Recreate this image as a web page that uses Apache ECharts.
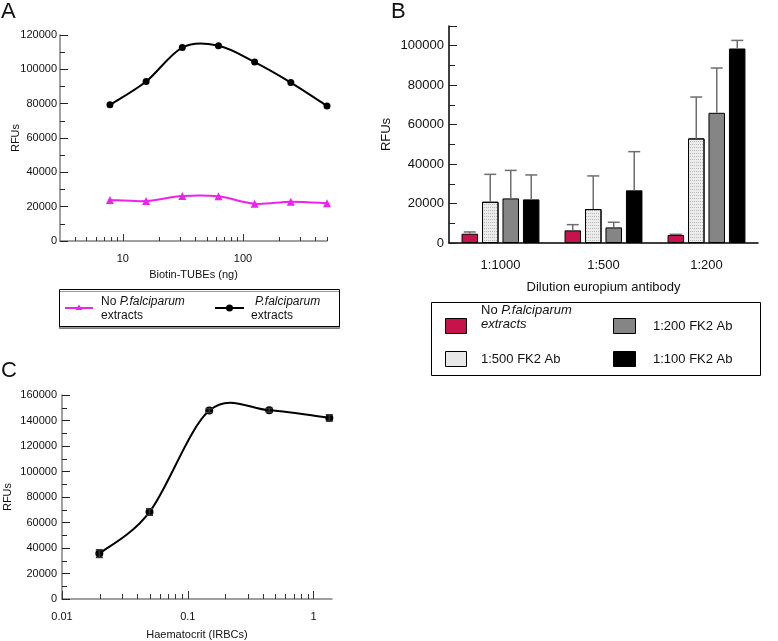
<!DOCTYPE html>
<html>
<head>
<meta charset="utf-8">
<script src="https://cdn.jsdelivr.net/npm/echarts@6/dist/echarts.min.js"></script>
<style>html,body{margin:0;padding:0;background:#fff}#c{width:778px;height:641px}</style>
</head>
<body>
<div id="c"></div>
<script>
// ---- Panel A data ----
const tubesNg = [7.8125, 15.625, 31.25, 62.5, 125, 250, 500];
const withExtractA = [79300, 92900, 112700, 113700, 104200, 92300, 78700];
const noExtractA = [23900, 23300, 26200, 26000, 21700, 22900, 22000];
const aMajorTicks = [10, 100];
const aMinorTicks = [4, 5, 6, 7, 8, 9, 20, 30, 40, 50, 60, 70, 80, 90, 200, 300, 400, 500];

// ---- Panel B data ----
const dilutions = ['1:1000', '1:500', '1:200'];
const bNoExtract = [4700, 6400, 4100];
const bNoExtractErr = [900, 2900, 300];
const bFk500 = [20900, 17200, 53000];
const bFk500Err = [13900, 16800, 21000];
const bFk200 = [22600, 7900, 66000];
const bFk200Err = [14200, 2600, 22700];
const bFk100 = [22100, 26700, 98600];
const bFk100Err = [12400, 19600, 4100];

// ---- Panel C data ----
const haematocrit = [0.0198, 0.0496, 0.148, 0.444, 1.333];
const rfuC = [35600, 68200, 147800, 148000, 142000];
const rfuCErr = [3000, 2500, 1500, 1500, 2500];
const cMajorTicks = [0.01, 0.1, 1];
const cMinorTicks = [0.02, 0.03, 0.04, 0.05, 0.06, 0.07, 0.08, 0.09, 0.2, 0.3, 0.4, 0.5, 0.6, 0.7, 0.8, 0.9];

const FONT = 'Liberation Sans, Arial, Helvetica, sans-serif';
const fmtNum = v => String(+(+v).toPrecision(6));

const chart = echarts.init(document.getElementById('c'), null, {renderer: 'canvas'});

function logX(gridIndex, min, max, ticks, tickLen, showLabels, name, nameGap) {
  return {
    type: 'log', gridIndex, min, max, logBase: 10, position: 'bottom',
    axisLine: {show: showLabels, lineStyle: {color: '#808080', width: 1.5}},
    axisTick: {show: true, inside: true, length: tickLen, customValues: ticks, lineStyle: {color: '#333', width: 1}},
    axisLabel: {show: showLabels, customValues: ticks, formatter: fmtNum, fontFamily: FONT, fontSize: 11, color: '#111', margin: 12},
    splitLine: {show: false},
    minorTick: {show: false},
    name: showLabels ? name : '', nameLocation: 'middle', nameGap: nameGap, nameMoveOverlap: false,
    nameTextStyle: {fontFamily: FONT, fontSize: 11, color: '#111'}
  };
}

function valY(gridIndex, max, interval, opts) {
  return Object.assign({
    type: 'value', gridIndex, min: 0, max, interval,
    axisLine: {show: true, lineStyle: {color: '#808080', width: 1.5}},
    axisTick: {show: true, inside: true, length: 8, lineStyle: {color: '#222'}},
    minorTick: {show: true, splitNumber: 2, length: 5, lineStyle: {color: '#222'}},
    axisLabel: {fontFamily: FONT, fontSize: 11, color: '#111', margin: 3, formatter: v => String(v)},
    splitLine: {show: false},
    nameLocation: 'middle', name: 'RFUs', nameMoveOverlap: false,
    nameTextStyle: {fontFamily: FONT, fontSize: 11, color: '#111'}
  }, opts);
}

const pairs = (xs, ys) => xs.map((x, i) => [x, ys[i]]);

// Catmull-Rom spline through the points, positioned via the axes' own scales
function splineSeries(xIdx, yIdx, xs, ys, color, width) {
  return {
    type: 'custom', xAxisIndex: xIdx, yAxisIndex: yIdx, z: 3,
    data: pairs(xs, ys),
    renderItem: function (params, api) {
      if (params.dataIndex !== 0) return null;
      const p = xs.map((x, i) => api.coord([x, ys[i]]));
      const n = p.length;
      const children = [];
      for (let i = 0; i < n - 1; i++) {
        const p0 = p[Math.max(i - 1, 0)], p1 = p[i], p2 = p[i + 1], p3 = p[Math.min(i + 2, n - 1)];
        children.push({
          type: 'bezierCurve',
          shape: {
            x1: p1[0], y1: p1[1], x2: p2[0], y2: p2[1],
            cpx1: p1[0] + (p2[0] - p0[0]) / 6, cpy1: p1[1] + (p2[1] - p0[1]) / 6,
            cpx2: p2[0] - (p3[0] - p1[0]) / 6, cpy2: p2[1] - (p3[1] - p1[1]) / 6
          },
          style: {stroke: color, lineWidth: width, fill: null}
        });
      }
      return {type: 'group', children};
    }
  };
}

const bOffsets = [-30.75, -10.25, 10.25, 30.75];
function errBarB(values, errs, idx) {
  return {
    type: 'custom', xAxisIndex: 4, yAxisIndex: 1, z: 10,
    data: values.map((v, i) => [i, v, errs[i]]),
    renderItem: function (params, api) {
      const ci = api.value(0), m = api.value(1), e = api.value(2);
      const b = api.coord([ci, m]);
      const t = api.coord([ci, m + e]);
      const x = b[0] + bOffsets[idx];
      return {
        type: 'group', children: [
          {type: 'line', shape: {x1: x, y1: b[1], x2: x, y2: t[1]}, style: {stroke: '#6e6e6e', lineWidth: 1.5}},
          {type: 'line', shape: {x1: x - 6, y1: t[1], x2: x + 6, y2: t[1]}, style: {stroke: '#6e6e6e', lineWidth: 1.5}}
        ]
      };
    }
  };
}

function barB(name, values, color, extra) {
  return Object.assign({
    type: 'bar', name, xAxisIndex: 4, yAxisIndex: 1, data: values,
    barWidth: 16.5, barGap: '24%',
    itemStyle: {color, borderColor: '#000', borderWidth: 1}
  }, extra || {});
}

const italicRich = {
  n: {fontFamily: FONT, fontSize: 12, fill: '#111'},
  i: {fontFamily: FONT, fontSize: 12, fontStyle: 'italic', fill: '#111'}
};
const italicRichB = {
  n: {fontFamily: FONT, fontSize: 13, fill: '#111'},
  i: {fontFamily: FONT, fontSize: 13, fontStyle: 'italic', fill: '#111'}
};

const option = {
  animation: false,
  grid: [
    {left: 60, top: 35, width: 267, height: 206},
    {left: 449, top: 26, width: 309, height: 217},
    {left: 62, top: 395, width: 270, height: 205}
  ],
  xAxis: [
    logX(0, 3, 500, aMajorTicks, 7, true, 'Biotin-TUBEs (ng)', 28),
    logX(0, 3, 500, aMinorTicks, 4, false),
    logX(2, 0.01, 1.4, cMajorTicks, 8, true, 'Haematocrit (IRBCs)', 30),
    logX(2, 0.01, 1.4, cMinorTicks, 5, false),
    {
      type: 'category', gridIndex: 1, data: dilutions,
      axisLine: {lineStyle: {color: '#000', width: 1.5}},
      axisTick: {inside: true, length: 8, lineStyle: {color: '#222'}},
      axisLabel: {fontFamily: FONT, fontSize: 13, color: '#111', margin: 16},
      name: 'Dilution europium antibody', nameLocation: 'middle', nameGap: 38, nameMoveOverlap: false,
      nameTextStyle: {fontFamily: FONT, fontSize: 13, color: '#111'}
    }
  ],
  yAxis: [
    valY(0, 120000, 20000, {nameGap: 39}),
    valY(1, 110000, 20000, {
      nameGap: 56,
      axisLine: {show: true, lineStyle: {color: '#000', width: 1.5}},
      axisTick: {show: true, inside: true, length: 8, lineStyle: {color: '#222'}},
      minorTick: {show: true, splitNumber: 2, length: 6, lineStyle: {color: '#222'}},
      axisLabel: {fontFamily: FONT, fontSize: 13, color: '#111', margin: 5,
        showMaxLabel: false, formatter: v => String(v)},
      nameTextStyle: {fontFamily: FONT, fontSize: 13, color: '#111'}
    }),
    valY(2, 160000, 20000, {nameGap: 49, axisLabel: {fontFamily: FONT, fontSize: 11, color: '#111', margin: 5, formatter: v => String(v)}})
  ],
  series: [
    splineSeries(0, 0, tubesNg, noExtractA, '#ee22ee', 2),
    {
      type: 'scatter', xAxisIndex: 0, yAxisIndex: 0, data: pairs(tubesNg, noExtractA), z: 4,
      symbol: 'triangle', symbolSize: 8, itemStyle: {color: '#ee22ee', opacity: 1}
    },
    splineSeries(0, 0, tubesNg, withExtractA, '#000', 2),
    {
      type: 'scatter', xAxisIndex: 0, yAxisIndex: 0, data: pairs(tubesNg, withExtractA), z: 4,
      symbol: 'circle', symbolSize: 7, itemStyle: {color: '#000', opacity: 1}
    },
    barB('No P.falciparum extracts', bNoExtract, '#c8124b'),
    barB('1:500 FK2 Ab', bFk500, '#ececec', {
      itemStyle: {color: '#ececec', borderColor: '#000', borderWidth: 1,
        decal: {symbol: 'rect', symbolSize: 1, color: 'rgba(0,0,0,0.22)', dashArrayX: [1, 1], dashArrayY: [1, 2], rotation: 0}}
    }),
    barB('1:200 FK2 Ab', bFk200, '#858585'),
    barB('1:100 FK2 Ab', bFk100, '#000'),
    errBarB(bNoExtract, bNoExtractErr, 0),
    errBarB(bFk500, bFk500Err, 1),
    errBarB(bFk200, bFk200Err, 2),
    errBarB(bFk100, bFk100Err, 3),
    splineSeries(2, 2, haematocrit, rfuC, '#000', 2),
    {
      type: 'scatter', xAxisIndex: 2, yAxisIndex: 2, data: pairs(haematocrit, rfuC), z: 4,
      symbol: 'circle', symbolSize: 8, itemStyle: {color: '#000', opacity: 1}
    },
    {
      type: 'custom', xAxisIndex: 2, yAxisIndex: 2, z: 10,
      data: haematocrit.map((h, i) => [h, rfuC[i], rfuCErr[i]]),
      renderItem: function (params, api) {
        const x = api.value(0), m = api.value(1), e = api.value(2);
        const lo = api.coord([x, m - e]);
        const hi = api.coord([x, m + e]);
        const cx = lo[0];
        return {
          type: 'group', children: [
            {type: 'line', shape: {x1: cx, y1: lo[1], x2: cx, y2: hi[1]}, style: {stroke: '#333', lineWidth: 1.5}},
            {type: 'line', shape: {x1: cx - 3.5, y1: lo[1], x2: cx + 3.5, y2: lo[1]}, style: {stroke: '#333', lineWidth: 1.5}},
            {type: 'line', shape: {x1: cx - 3.5, y1: hi[1], x2: cx + 3.5, y2: hi[1]}, style: {stroke: '#333', lineWidth: 1.5}}
          ]
        };
      }
    }
  ],
  graphic: [
    // panel letters
    {type: 'text', left: 1, top: 1, style: {text: 'A', fontFamily: FONT, fontSize: 22, fill: '#111'}},
    {type: 'text', left: 391, top: 1, style: {text: 'B', fontFamily: FONT, fontSize: 22, fill: '#111'}},
    {type: 'text', left: 1, top: 360, style: {text: 'C', fontFamily: FONT, fontSize: 22, fill: '#111'}},
    // legend A
    {type: 'rect', shape: {x: 59.5, y: 289.5, width: 280, height: 37},
      style: {fill: '#fff', stroke: '#000', lineWidth: 1, shadowColor: 'rgba(0,0,0,0.4)', shadowOffsetY: 2, shadowOffsetX: 0, shadowBlur: 0}},
    {type: 'line', shape: {x1: 65, y1: 308, x2: 93, y2: 308}, style: {stroke: '#ee22ee', lineWidth: 2}},
    {type: 'polygon', shape: {points: [[79, 304.5], [75.5, 310], [82.5, 310]]}, style: {fill: '#ee22ee'}},
    {type: 'text', x: 101, y: 302, style: {text: '{n|No }{i|P.falciparum}', rich: italicRich, verticalAlign: 'middle'}},
    {type: 'text', x: 101, y: 316, style: {text: 'extracts', fontFamily: FONT, fontSize: 12, fill: '#111', verticalAlign: 'middle'}},
    {type: 'line', shape: {x1: 215, y1: 308, x2: 244, y2: 308}, style: {stroke: '#000', lineWidth: 2}},
    {type: 'circle', shape: {cx: 229.5, cy: 308, r: 3.5}, style: {fill: '#000'}},
    {type: 'text', x: 255, y: 302, style: {text: '{i|P.falciparum}', rich: italicRich, verticalAlign: 'middle'}},
    {type: 'text', x: 251, y: 316, style: {text: 'extracts', fontFamily: FONT, fontSize: 12, fill: '#111', verticalAlign: 'middle'}},
    // legend B
    {type: 'rect', shape: {x: 431.5, y: 302.5, width: 329, height: 73}, style: {fill: '#fff', stroke: '#000', lineWidth: 1}},
    {type: 'rect', shape: {x: 445.5, y: 318.5, width: 21, height: 15}, style: {fill: '#c8124b', stroke: '#000', lineWidth: 1}},
    {type: 'text', x: 481, y: 310, style: {text: '{n|No }{i|P.falciparum}', rich: italicRichB, verticalAlign: 'middle'}},
    {type: 'text', x: 481, y: 324, style: {text: '{i|extracts}', rich: italicRichB, verticalAlign: 'middle'}},
    {type: 'rect', shape: {x: 445.5, y: 351.5, width: 21, height: 15}, style: {fill: '#e8e8e8', stroke: '#000', lineWidth: 1}},
    {type: 'text', x: 481, y: 359, style: {text: '1:500 FK2 Ab', fontFamily: FONT, fontSize: 13, fill: '#111', verticalAlign: 'middle'}},
    {type: 'rect', shape: {x: 613.5, y: 318.5, width: 22, height: 15}, style: {fill: '#858585', stroke: '#000', lineWidth: 1}},
    {type: 'text', x: 653, y: 326, style: {text: '1:200 FK2 Ab', fontFamily: FONT, fontSize: 13, fill: '#111', verticalAlign: 'middle'}},
    {type: 'rect', shape: {x: 613.5, y: 351.5, width: 22, height: 15}, style: {fill: '#000', stroke: '#000', lineWidth: 1}},
    {type: 'text', x: 653, y: 359, style: {text: '1:100 FK2 Ab', fontFamily: FONT, fontSize: 13, fill: '#111', verticalAlign: 'middle'}}
  ]
};
chart.setOption(option);
</script>
</body>
</html>
